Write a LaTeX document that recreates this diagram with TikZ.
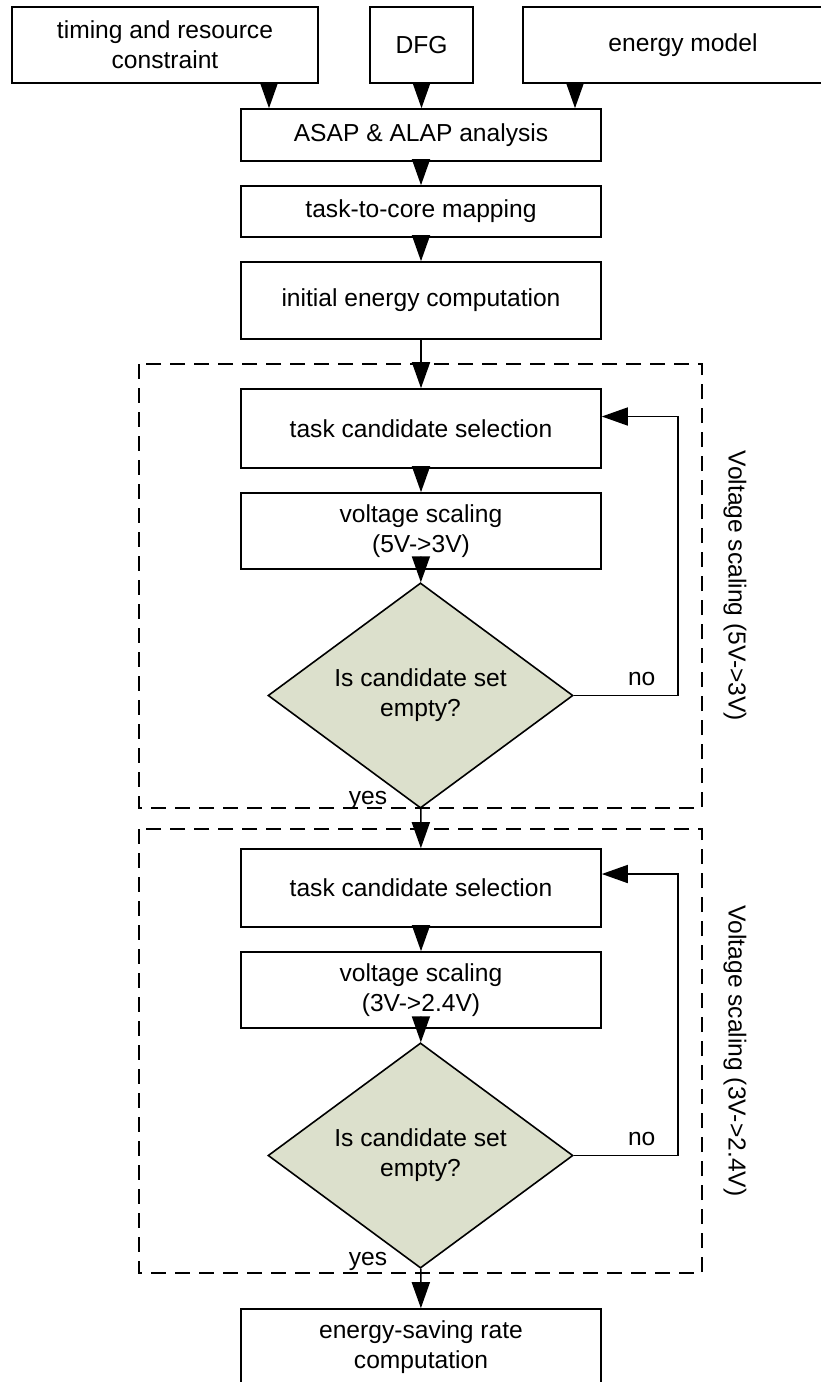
\documentclass[tikz,border=0pt]{standalone}
\usepackage{fontspec}
\setmainfont{Liberation Sans}
\usetikzlibrary{
  arrows.meta,
  positioning,
  shapes.geometric,
  calc
}
\definecolor{losango}{RGB}{220,224,204}

\begin{document}
\begin{tikzpicture}[x=0.5pt,y=-0.5pt,
    texto/.style={font=\fontsize{12.3}{15}\selectfont},
    caixa/.style={texto, draw, line width=0.8pt, inner sep=0pt, align=center, minimum width=180pt},
    decisao/.style={texto, draw, line width=0.8pt, diamond, fill=losango, inner sep=0pt, align=center,
      minimum width=152.5pt, minimum height=102.5pt},
    grupo/.style={line width=1pt, dash pattern=on 7.5pt off 4.5pt},
    fluxo/.style={line width=0.8pt, -{Triangle[length=13pt,width=9pt]}},
    rotulo/.style={texto, inner sep=0pt}]
        \useasboundingbox (0,0) rectangle (820,1382);

        % Caixas tracejadas das duas etapas
        \draw[grupo] (139,364) rectangle (702,808);
        \draw[grupo] (139,829) rectangle (702,1273);
        \node[rotulo, rotate=-90] (etapa1) at (735,586) {Voltage scaling (5V->3V)};
        \node[rotulo, rotate=-90] (etapa2) at (735,1051) {Voltage scaling (3V->2.4V)};

        % Entradas
        \node[caixa, minimum width=153pt, minimum height=38pt] (timing) at (165,45) {timing and resource\\constraint};
        \node[caixa, minimum width=51.5pt, minimum height=38pt] (dfg) at (421.5,45) {DFG};
        \node[caixa, minimum width=160pt, minimum height=38pt] (model) at (683,45) {energy model};

        % Passos iniciais
        \node[caixa, minimum height=26pt] (asap) at (421,135) {ASAP \& ALAP analysis};
        \node[caixa, minimum height=25.5pt] (mapping) at (421,211.5) {task-to-core mapping};
        \node[caixa, minimum height=38.5pt] (init) at (421,300.5) {initial energy computation};

        % Primeira etapa
        \node[caixa, minimum height=39.5pt] (select1) at (421,428.5) {task candidate selection};
        \node[caixa, minimum height=38pt] (scale1) at (421,531) {voltage scaling\\(5V->3V)};
        \node[decisao] (check1) at (420.5,695.5) {Is candidate set\\empty?};

        % Segunda etapa
        \node[caixa, minimum height=39pt] (select2) at (421,888) {task candidate selection};
        \node[caixa, minimum height=38pt] (scale2) at (421,990) {voltage scaling\\(3V->2.4V)};
        \node[decisao] (check2) at (420.5,1155.5) {Is candidate set\\empty?};

        % Resultado
        \node[caixa, minimum height=38.5pt] (rate) at (421,1347.5) {energy-saving rate\\computation};

        % Setas
        \draw[fluxo] ([xshift=52pt]timing.south) -- ([xshift=52pt]timing.south |- asap.north);
        \draw[fluxo] (dfg.south) -- (dfg.south |- asap.north);
        \draw[fluxo] ([xshift=-54pt]model.south) -- ([xshift=-54pt]model.south |- asap.north);
        \draw[fluxo] (asap) -- (mapping);
        \draw[fluxo] (mapping) -- (init);
        \draw[fluxo] (init) -- (select1);
        \draw[fluxo] (select1) -- (scale1);
        \draw[fluxo] (scale1) -- (check1);
        \draw[fluxo] (check1) -- (select2);
        \draw[fluxo] (select2) -- (scale2);
        \draw[fluxo] (scale2) -- (check2);
        \draw[fluxo] (check2) -- (rate);

        % Retornos
        \draw[fluxo] (check1.east) -- ++(104,0) coordinate (volta1) |- ([yshift=6pt]select1.east);
        \draw[fluxo] (check2.east) -- ++(104,0) coordinate (volta2) |- ([yshift=7pt]select2.east);
        \node[rotulo, anchor=south east] at ([xshift=-11pt,yshift=4.5pt]volta1) {no};
        \node[rotulo, anchor=south east] at ([xshift=-11pt,yshift=4.5pt]volta2) {no};
        \node[rotulo, anchor=east] at ([xshift=-16.5pt,yshift=4pt]check1.south) {yes};
        \node[rotulo, anchor=east] at ([xshift=-16.5pt,yshift=4pt]check2.south) {yes};
\end{tikzpicture}
\end{document}
